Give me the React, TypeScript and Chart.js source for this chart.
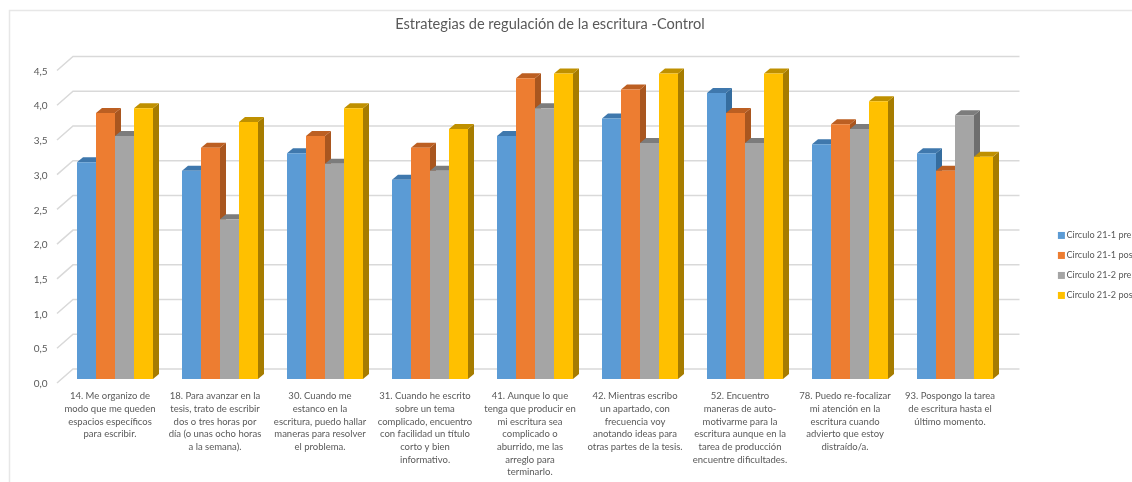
import React, { useEffect, useRef } from "react";
import { Chart, registerables } from "chart.js";

Chart.register(...registerables);

const titleText = "Estrategias de regulación de la escritura -Control";
const categories: string[][] = [
  ["14. Me organizo de", "modo que me queden", "espacios específicos", "para escribir."],
  ["18. Para avanzar en la", "tesis, trato de escribir", "dos o tres horas por", "día (o unas ocho horas", "a la semana)."],
  ["30. Cuando me", "estanco en la", "escritura, puedo hallar", "maneras para resolver", "el problema."],
  ["31. Cuando he escrito", "sobre un tema", "complicado, encuentro", "con facilidad un título", "corto y bien", "informativo."],
  ["41. Aunque lo que", "tenga que producir en", "mi escritura sea", "complicado o", "aburrido, me las", "arreglo para", "terminarlo."],
  ["42. Mientras escribo", "un apartado, con", "frecuencia voy", "anotando ideas para", "otras partes de la tesis."],
  ["52. Encuentro", "maneras de auto-", "motivarme para la", "escritura aunque en la", "tarea de producción", "encuentre dificultades."],
  ["78. Puedo re-focalizar", "mi atención en la", "escritura cuando", "advierto que estoy", "distraído/a."],
  ["93. Pospongo la tarea", "de escritura hasta el", "último momento."],
];
const pre211 = [3.12, 3.0, 3.25, 2.87, 3.5, 3.75, 4.12, 3.38, 3.25];
const pos211 = [3.83, 3.33, 3.5, 3.33, 4.33, 4.17, 3.83, 3.67, 3.0];
const pre212 = [3.5, 2.3, 3.1, 3.0, 3.9, 3.4, 3.4, 3.6, 3.8];
const pos212 = [3.9, 3.7, 3.9, 3.6, 4.4, 4.4, 4.4, 4.0, 3.2];

const seriesNames = ["Circulo 21-1 pre", "Circulo 21-1 pos", "Circulo 21-2 pre", "Circulo 21-2 pos"];
const frontColors = ["#5B9BD5", "#ED7D31", "#A5A5A5", "#FFC000"];
const sideColors = ["#356D9F", "#A9561F", "#6E6E6E", "#A67C00"];
const topColors = ["#3F78AD", "#BC5F22", "#7C7C7C", "#BF9000"];

const FONT = "Lato, Carlito, sans-serif";
const BAR_DX = 6;
const BAR_DY = 5;
const WALL_DX = 16;
const WALL_DY = -14;
const WALL_RIGHT = 1019.5;
const FRONT_SHIFT = 4;

const poly = (ctx: CanvasRenderingContext2D, pts: number[][], color: string) => {
  ctx.fillStyle = color;
  ctx.beginPath();
  pts.forEach(([px, py], i) => (i ? ctx.lineTo(px, py) : ctx.moveTo(px, py)));
  ctx.closePath();
  ctx.fill();
};

const depthPlugin = {
  id: "depth3d",
  beforeLayout(chart: any) {
    const l = chart.legend;
    if (l && !l.__wrapped) {
      l.__wrapped = true;
      const fit = l.fit;
      l.fit = function () {
        fit.call(this);
        this.width = 124.5;
      };
    }
  },
  afterLayout(chart: any) {
    const t = chart.titleBlock;
    if (t) {
      t.left = 0;
      t.right = 1100;
    }
    const l = chart.legend;
    if (l) {
      l.left = 1050;
      l.right = 1132;
      l.top = 220;
      l.bottom = 340;
    }
  },
  beforeDatasetsDraw(chart: any) {
    const { ctx, scales } = chart;
    const yScale = scales.y;
    const left = scales.x.left;
    ctx.save();
    ctx.strokeStyle = "#E7E7E7";
    ctx.lineWidth = 1.5;
    ctx.beginPath();
    ctx.moveTo(9.5, 482);
    ctx.lineTo(9.5, 10.5);
    ctx.lineTo(1132, 10.5);
    ctx.stroke();
    ctx.strokeStyle = "#D9D9D9";
    yScale.ticks.forEach((_t: any, i: number) => {
      const py = yScale.getPixelForTick(i) + FRONT_SHIFT;
      const fx = left - 5.5;
      ctx.beginPath();
      ctx.moveTo(fx, py);
      ctx.lineTo(fx + WALL_DX, py + WALL_DY);
      ctx.lineTo(WALL_RIGHT, py + WALL_DY);
      ctx.stroke();
    });
    chart.data.datasets.forEach((_d: any, di: number) => {
      chart.getDatasetMeta(di).data.forEach((bar: any) => {
        const x0 = bar.x - bar.width / 2;
        const x1 = bar.x + bar.width / 2;
        poly(ctx, [[x1, bar.y], [x1 + BAR_DX, bar.y - BAR_DY], [x1 + BAR_DX, bar.base - BAR_DY], [x1, bar.base]], sideColors[di]);
        poly(ctx, [[x0, bar.y], [x0 + BAR_DX, bar.y - BAR_DY], [x1 + BAR_DX, bar.y - BAR_DY], [x1, bar.y]], topColors[di]);
      });
    });
    ctx.restore();
  },
};

export default function App() {
  const ref = useRef<HTMLCanvasElement>(null);
  useEffect(() => {
    document.body.style.margin = "0";
    const values = [pre211, pos211, pre212, pos212];
    const chart = new Chart(ref.current!, {
      type: "bar",
      data: {
        labels: categories,
        datasets: values.map((data, i) => ({
          label: seriesNames[i],
          data,
          backgroundColor: frontColors[i],
          borderWidth: 0,
          categoryPercentage: 76 / 105,
          barPercentage: 1,
        })),
      },
      options: {
        animation: false,
        responsive: false,
        layout: { padding: 0 },
        plugins: {
          title: {
            display: true,
            text: titleText,
            color: "#595959",
            font: { family: FONT, size: 14.6, weight: "normal" },
            padding: { top: 15.5, bottom: 33.5 },
          },
          legend: {
            display: true,
            position: "right",
            align: "start",
            labels: {
              boxWidth: 1,
              boxHeight: 1,
              padding: 10.9,
              color: "#595959",
              font: { family: FONT, size: 9.1 },
              generateLabels: (c: any) =>
                (Chart.defaults.plugins.legend.labels as any).generateLabels(c).map((item: any, i: number) => ({
                  ...item,
                  strokeStyle: frontColors[i],
                  lineWidth: 6,
                })),
            },
          },
          tooltip: { enabled: false },
        },
        scales: {
          x: {
            grid: { display: false },
            border: { display: false },
            afterFit: (s: any) => {
              s.height = 103;
            },
            ticks: {
              color: "#595959",
              font: { family: FONT, size: 9.5, lineHeight: 1.33 },
              padding: 3,
              labelOffset: -5,
              autoSkip: false,
              maxRotation: 0,
              minRotation: 0,
            },
          },
          y: {
            min: 0,
            max: 4.5,
            grid: { display: false },
            border: { display: false },
            afterFit: (s: any) => {
              s.width = 62.5;
            },
            ticks: {
              stepSize: 0.5,
              color: "#595959",
              font: { family: FONT, size: 10 },
              padding: 7,
              labelOffset: 5,
              callback: (v: any) => Number(v).toFixed(1).replace(".", ","),
            },
          },
        },
      },
      plugins: [depthPlugin],
    } as any);
    return () => chart.destroy();
  }, []);
  return <canvas ref={ref} width={1132} height={482} style={{ display: "block", background: "#fff" }} />;
}
